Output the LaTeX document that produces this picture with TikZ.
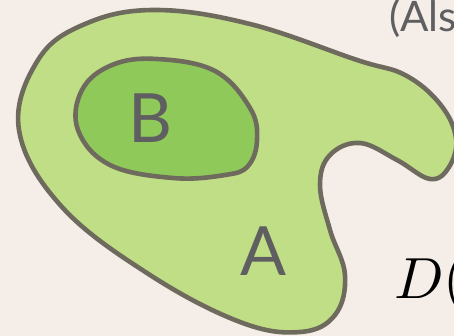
\documentclass[tikz,border=0pt]{standalone}
\usepackage{fontspec}
\setmainfont{Lato}
\usepackage{tikz}
\definecolor{paper}{RGB}{245,238,232}
\definecolor{setA}{RGB}{192,222,133}
\definecolor{setB}{RGB}{143,201,90}
\definecolor{rim}{RGB}{110,106,94}
\definecolor{ink}{RGB}{95,95,98}

\begin{document}
\begin{tikzpicture}[
    x=1pt, y=-1pt,
    region/.style={draw=rim, line width=4.6pt, line join=round},
    biglabel/.style={text=ink, font=\fontsize{68}{70}\selectfont, inner sep=0pt},
    sidelabel/.style={text=ink, font=\fontsize{42}{44}\selectfont, inner sep=0pt, anchor=base west}
  ]

  %% Canvas
  \fill[paper] (0,0) rectangle (454,336);
  \useasboundingbox (0,0) rectangle (454,336);
  \clip (0,0) rectangle (454,336);

  %% Set A (outer blob)
  \draw[region, fill=setA] plot[smooth cycle, tension=0.65] coordinates {
      (155,10) (250,24) (357,60) (405,75) (440,104) (456,138) (449,167)
      (430,179) (397,160) (360,143) (330,155) (320,185) (330,230)
      (345,275) (335,315) (300,332) (240,322) (150,275) (62,207)
      (19,130) (38,60) (85,24)};

  %% Set B (inner blob)
  \draw[region, fill=setB] plot[smooth cycle, tension=0.65] coordinates {
      (157,59) (215,71) (250,108) (257,140) (248,166) (225,175)
      (173,178) (110,165) (78,130) (82,90) (112,65)};

  %% Labels
  \node[biglabel] (labelB) at (150,118) {B};
  \node[biglabel] (labelA) at (264,251) {A};
  \node[sidelabel] (also) at (389,32) {(Als};
  \node[text=black, scale=5.8, inner sep=0pt, anchor=base west]
        (dterm) at (393,298) {$D($};

\end{tikzpicture}
\end{document}
